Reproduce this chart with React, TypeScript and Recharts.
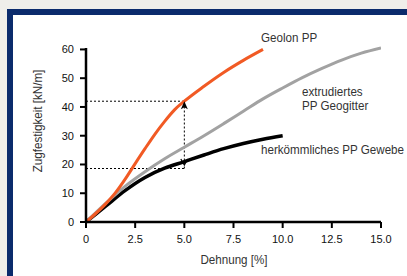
import React from 'react';
import { LineChart, Line, XAxis, YAxis, ReferenceLine, ReferenceDot } from 'recharts';

// Dehnung [%] -> Zugfestigkeit [kN/m]
const geolonData = [
  { x: 0, y: 0 }, { x: 1, y: 6.3 }, { x: 1.5, y: 10.2 }, { x: 2, y: 15 },
  { x: 2.5, y: 20.3 }, { x: 3, y: 25.5 }, { x: 3.5, y: 30.5 },
  { x: 4, y: 35 }, { x: 4.5, y: 39 }, { x: 5, y: 42 }, { x: 6, y: 47.2 },
  { x: 7, y: 52 }, { x: 8, y: 56.2 }, { x: 9, y: 60 },
];
const geogitterData = [
  { x: 0, y: 0 }, { x: 1, y: 6.5 }, { x: 2, y: 12.5 }, { x: 3, y: 17.5 }, { x: 4, y: 22 },
  { x: 5, y: 26 }, { x: 6, y: 30 }, { x: 7, y: 34.2 }, { x: 8, y: 38.5 }, { x: 9, y: 42.8 },
  { x: 10, y: 46.6 }, { x: 11, y: 50.2 }, { x: 12, y: 53.4 }, { x: 13, y: 56.3 },
  { x: 14, y: 58.7 }, { x: 15, y: 60.5 },
];
const gewebeData = [
  { x: 0, y: 0 }, { x: 1, y: 5.5 }, { x: 2, y: 11 }, { x: 3, y: 15.5 }, { x: 4, y: 18.7 },
  { x: 5, y: 21 }, { x: 6, y: 23.3 }, { x: 7, y: 25.5 }, { x: 8, y: 27.3 }, { x: 9, y: 28.8 },
  { x: 10, y: 30 },
];
const xTicks = [0, 2.5, 5, 7.5, 10, 12.5, 15];
const xTickLabels = ['0', '2.5', '5.0', '7.5', '10.0', '12.5', '15.0'];
const yTicks = [0, 10, 20, 30, 40, 50, 60];

// markers for the comparison at 5 % strain
const compareX = 5;
const upperY = 42;
const lowerY = 18.6;
const lowerArrowY = 19.8;

const labelFont = 'Arial, "Liberation Sans", sans-serif';
const textColor = '#333';

const ArrowUp = (props: any) => {
  const { cx, cy } = props;
  return <path d={`M${cx},${cy} L${cx - 3.5},${cy + 8} L${cx},${cy + 6} L${cx + 3.5},${cy + 8} Z`} fill="#000" />;
};

const ArrowDown = (props: any) => {
  const { cx, cy } = props;
  return (
    <path
      d={`M${cx - 3.5},${cy - 6} L${cx},${cy} L${cx + 3.5},${cy - 6}`}
      fill="none"
      stroke="#000"
      strokeWidth={1.2}
    />
  );
};

const textStyle: React.CSSProperties = {
  position: 'absolute',
  fontFamily: labelFont,
  fontSize: 13.5,
  color: textColor,
  whiteSpace: 'nowrap',
  lineHeight: '14px',
};

const label = (text: string, left: number, top: number) => (
  <div style={{ ...textStyle, left, top, transform: 'scaleX(0.86)', transformOrigin: 'left center' }}>{text}</div>
);

export default function App() {
  return (
    <div style={{ position: 'fixed', left: 0, top: 0, width: 407, height: 276, background: '#efeeea', overflow: 'hidden' }}>
      <div
        style={{
          position: 'absolute',
          left: 7,
          top: 9,
          width: 420,
          height: 290,
          background: '#fff',
          borderLeft: '6px solid #0b2b6c',
          borderTop: '6px solid #0b2b6c',
          boxSizing: 'border-box',
        }}
      />
      <div style={{ position: 'absolute', left: 0, top: 0 }}>
        <LineChart width={407} height={276} margin={{ top: 48, right: 26, bottom: 24, left: 56 }}>
          <XAxis
            type="number"
            dataKey="x"
            domain={[0, 15]}
            ticks={xTicks}
            tickFormatter={(v: number) => xTickLabels[xTicks.indexOf(v)]}
            allowDataOverflow
            height={30}
            tickSize={6}
            tickMargin={7}
            axisLine={{ stroke: '#000', strokeWidth: 2.5 }}
            tickLine={{ stroke: '#000', strokeWidth: 2 }}
            tick={{ fill: '#111', fontSize: 11, fontFamily: labelFont }}
          />
          <YAxis
            type="number"
            domain={[0, 60]}
            ticks={yTicks}
            width={30}
            tickSize={6}
            tickMargin={6}
            axisLine={{ stroke: '#000', strokeWidth: 2.5 }}
            tickLine={{ stroke: '#000', strokeWidth: 2 }}
            tick={{ fill: '#111', fontSize: 11, fontFamily: labelFont }}
          />
          <ReferenceLine segment={[{ x: 0, y: upperY }, { x: compareX, y: upperY }]} stroke="#000" strokeWidth={1} strokeDasharray="2 2" ifOverflow="visible" />
          <ReferenceLine segment={[{ x: 0, y: lowerY }, { x: compareX, y: lowerY }]} stroke="#000" strokeWidth={1} strokeDasharray="2 2" ifOverflow="visible" />
          <ReferenceLine segment={[{ x: compareX, y: lowerY }, { x: compareX, y: upperY }]} stroke="#000" strokeWidth={1} strokeDasharray="2 2" ifOverflow="visible" />
          <Line data={gewebeData} dataKey="y" type="monotone" stroke="#000" strokeWidth={3.5} dot={false} isAnimationActive={false} />
          <Line data={geogitterData} dataKey="y" type="monotone" stroke="#a2a2a2" strokeWidth={3} dot={false} isAnimationActive={false} />
          <Line data={geolonData} dataKey="y" type="monotone" stroke="#f15a24" strokeWidth={3} dot={false} isAnimationActive={false} />
          <ReferenceDot x={compareX} y={upperY} r={0} shape={ArrowUp} ifOverflow="visible" />
          <ReferenceDot x={compareX} y={lowerArrowY} r={0} shape={ArrowDown} ifOverflow="visible" />
        </LineChart>
      </div>
      {label('Geolon PP', 261, 31)}
      {label('extrudiertes', 302, 85)}
      {label('PP Geogitter', 302, 99)}
      {label('herkömmliches PP Gewebe', 261, 143)}
      <div style={{ ...textStyle, left: 234, top: 253, transform: 'translateX(-50%) scaleX(0.86)' }}>Dehnung [%]</div>
      <div style={{ ...textStyle, left: 38, top: 121, transform: 'translate(-50%, -50%) rotate(-90deg) scaleX(0.86)' }}>
        Zugfestigkeit [kN/m]
      </div>
    </div>
  );
}
